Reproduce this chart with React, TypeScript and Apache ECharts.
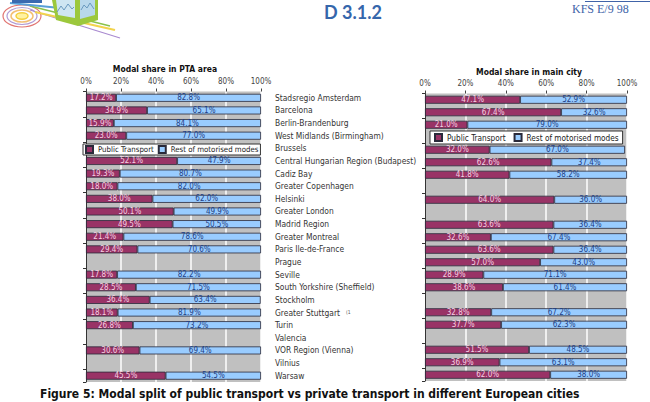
import React, { useEffect, useRef } from "react";
import * as echarts from "echarts";

const categories = [
  "Stadsregio Amsterdam",
  "Barcelona",
  "Berlin-Brandenburg",
  "West Midlands (Birmingham)",
  "Brussels",
  "Central Hungarian Region (Budapest)",
  "Cadiz Bay",
  "Greater Copenhagen",
  "Helsinki",
  "Greater London",
  "Madrid Region",
  "Greater Montreal",
  "Paris Ile-de-France",
  "Prague",
  "Seville",
  "South Yorkshire (Sheffield)",
  "Stockholm",
  "Greater Stuttgart",
  "Turin",
  "Valencia",
  "VOR Region (Vienna)",
  "Vilnius",
  "Warsaw",
];

const ptaPublic = [17.2, 34.9, 15.9, 23.0, null, 52.1, 19.3, 18.0, 38.0, 50.1, 49.5, 21.4, 29.4, null, 17.8, 28.5, 36.4, 18.1, 26.8, null, 30.6, null, 45.5];
const ptaRest = [82.8, 65.1, 84.1, 77.0, null, 47.9, 80.7, 82.0, 62.0, 49.9, 50.5, 78.6, 70.6, null, 82.2, 71.5, 63.4, 81.9, 73.2, null, 69.4, null, 54.5];
const cityPublic = [47.1, 67.4, 21.0, null, 32.0, 62.6, 41.8, null, 64.0, null, 63.6, 32.6, 63.6, 57.0, 28.9, 38.6, null, 32.8, 37.7, null, 51.5, 36.9, 62.0];
const cityRest = [52.9, 32.6, 79.0, null, 67.0, 37.4, 58.2, null, 36.0, null, 36.4, 67.4, 36.4, 43.0, 71.1, 61.4, null, 67.2, 62.3, null, 48.5, 63.1, 38.0];

const seriesNames = ["Public Transport", "Rest of motorised modes"];
const tickValues = [0, 20, 40, 60, 80, 100];

const FONT = "'DejaVu Sans Condensed', 'DejaVu Sans', sans-serif";
const MAROON = "#993366";
const BLUE = "#99ccff";

export default function App() {
  const ref = useRef<HTMLDivElement>(null);
  useEffect(() => {
    if (!ref.current) return;
    const chart = echarts.init(ref.current, undefined, { renderer: "svg" });
    const fmt = (p: any) => (p.value == null ? "" : `${Number(p.value).toFixed(1)}%`);
    const xAxisBase = (gridIndex: number) => ({
      gridIndex,
      type: "value",
      position: "top",
      min: tickValues[0],
      max: tickValues[tickValues.length - 1],
      interval: 20,
      axisLabel: { formatter: "{value}%", fontSize: 8, color: "#444", margin: 6, fontFamily: FONT },
      axisLine: { show: false },
      axisTick: { show: true, length: 3, lineStyle: { color: "#444" } },
      splitLine: { show: true, lineStyle: { color: "#ffffff", width: 1.5 } },
    });
    const barSeries = (name: string, data: any[], axis: number, stack: string, color: string, labelColor: string) => ({
      type: "bar",
      name,
      data,
      xAxisIndex: axis,
      yAxisIndex: axis === 0 ? 0 : 2,
      stack,
      barWidth: 8,
      itemStyle: { color, borderColor: "#2a2a3a", borderWidth: 0.8 },
      label: { show: true, position: "inside", formatter: fmt, fontSize: 8, color: labelColor, fontFamily: FONT },
    });
    const legendBase = {
      orient: "horizontal",
      icon: "rect",
      itemWidth: 7,
      itemHeight: 7,
      backgroundColor: "#ffffff",
      borderColor: "#333",
      borderWidth: 1,
      borderRadius: 0,
      padding: [1, 2, 1, 2],
      textStyle: { fontSize: 7.8, color: "#222", fontFamily: FONT },
      data: seriesNames,
    };
    chart.setOption({
      animation: false,
      textStyle: { fontFamily: FONT },
      grid: [
        { left: 86, top: 91.5, width: 175, height: 290.5, show: true, backgroundColor: "#c0c0c0", borderWidth: 0 },
        { left: 425, top: 93.5, width: 202, height: 287.5, show: true, backgroundColor: "#c0c0c0", borderWidth: 0 },
      ],
      xAxis: [xAxisBase(0), xAxisBase(1)],
      yAxis: [
        {
          gridIndex: 0, type: "category", data: categories, inverse: true, position: "left",
          axisLine: { show: true, lineStyle: { color: "#333" } },
          axisTick: { show: true, length: 3, lineStyle: { color: "#333" } },
          axisLabel: { show: false },
        },
        {
          gridIndex: 0, type: "category", data: categories, inverse: true, position: "right",
          axisLine: { show: false }, axisTick: { show: false },
          axisLabel: { show: true, align: "left", margin: 14, fontSize: 8.4, color: "#333", fontFamily: FONT },
        },
        {
          gridIndex: 1, type: "category", data: categories, inverse: true, position: "left",
          axisLine: { show: true, lineStyle: { color: "#333" } },
          axisTick: { show: true, length: 3, lineStyle: { color: "#333" } },
          axisLabel: { show: false },
        },
      ],
      legend: [
        { ...legendBase, left: 83, top: 144, itemGap: 4 },
        { ...legendBase, left: 430, top: 131, itemGap: 8, padding: [2, 4, 2, 4], textStyle: { fontSize: 8.2, color: "#222", fontFamily: FONT } },
      ],
      series: [
        barSeries(seriesNames[0], ptaPublic, 0, "pta", MAROON, "#f6d0e2"),
        barSeries(seriesNames[1], ptaRest, 0, "pta", BLUE, "#1f3f85"),
        barSeries(seriesNames[0], cityPublic, 1, "city", MAROON, "#f6d0e2"),
        barSeries(seriesNames[1], cityRest, 1, "city", BLUE, "#1f3f85"),
      ],
      graphic: [
        { type: "text", x: 165, y: 64, style: { text: "Modal share in PTA area", font: `bold 8.5px ${FONT}`, fill: "#111", textAlign: "center" } },
        { type: "text", x: 529, y: 67, style: { text: "Modal share in main city", font: `bold 8.5px ${FONT}`, fill: "#111", textAlign: "center" } },
        { type: "text", x: 346, y: 309, style: { text: "(1", font: `5px ${FONT}`, fill: "#555" } },
        { type: "text", x: 353, y: 3, style: { text: "D 3.1.2", font: `bold 18px Lato, 'Open Sans', sans-serif`, fill: "#3566ab", textAlign: "center" } },
        { type: "text", x: 572, y: 3, style: { text: "KFS E/9 98", font: `12px 'Liberation Serif', serif`, fill: "#4063a8" } },
        { type: "line", shape: { x1: 585, y1: 1.5, x2: 650, y2: 1.5 }, style: { stroke: "#4063a8", lineWidth: 1 } },
        // logo
        {
          type: "group",
          children: [
            { type: "ellipse", shape: { cx: 22, cy: 16, rx: 19, ry: 11 }, style: { fill: "none", stroke: "#d9534f", lineWidth: 1.2, opacity: 0.8 } },
            { type: "ellipse", shape: { cx: 22, cy: 16, rx: 15, ry: 8.5 }, style: { fill: "none", stroke: "#9b7fc9", lineWidth: 1.2, opacity: 0.8 } },
            { type: "ellipse", shape: { cx: 22, cy: 16, rx: 11, ry: 6 }, style: { fill: "none", stroke: "#f0b050", lineWidth: 1.5, opacity: 0.8 } },
            { type: "ellipse", shape: { cx: 22, cy: 16, rx: 6, ry: 3.2 }, style: { fill: "#fff2a0", stroke: "#f4d040", lineWidth: 1.5 } },
            { type: "line", shape: { x1: 30, y1: 10, x2: 120, y2: 38 }, style: { stroke: "#a98ad0", lineWidth: 1.2 } },
            { type: "line", shape: { x1: 35, y1: 12, x2: 115, y2: 30 }, style: { stroke: "#f2d34c", lineWidth: 2 } },
            { type: "line", shape: { x1: 30, y1: 6, x2: 110, y2: 26 }, style: { stroke: "#8ac24a", lineWidth: 1.5 } },
            { type: "line", shape: { x1: 10, y1: 3, x2: 60, y2: 8 }, style: { stroke: "#5aa0d8", lineWidth: 2 } },
            { type: "polygon", shape: { points: [[52, 0], [98, 0], [98, 20], [78, 26], [56, 20]] }, style: { fill: "#9cc83c" } },
            { type: "polygon", shape: { points: [[56, 0], [75, 0], [75, 18], [58, 15]] }, style: { fill: "#cfe6f2" } },
            { type: "polygon", shape: { points: [[80, 0], [95, 0], [95, 15], [80, 19]] }, style: { fill: "#b8d8ec" } },
            { type: "polyline", shape: { points: [[57, 12], [61, 6], [64, 10], [68, 4], [72, 9], [74, 7]] }, style: { stroke: "#6a9abf", fill: "none", lineWidth: 1 } },
            { type: "polyline", shape: { points: [[81, 10], [84, 5], [87, 8], [90, 3], [94, 9]] }, style: { stroke: "#6a9abf", fill: "none", lineWidth: 1 } },
            { type: "rect", shape: { x: 12, y: 0, width: 30, height: 3 }, style: { fill: "#3a6ab0" } },
          ],
        },
        { type: "text", x: 40, y: 388, style: { text: "Figure 5: Modal split of public transport vs private transport in different European cities", font: `bold 12px ${FONT}`, fill: "#111" } },
      ],
    });
    return () => chart.dispose();
  }, []);
  return (
    <div style={{ position: "fixed", left: 0, top: 0, width: 650, height: 402, background: "#fff" }}>
      <div ref={ref} style={{ width: 650, height: 402 }} />
    </div>
  );
}
